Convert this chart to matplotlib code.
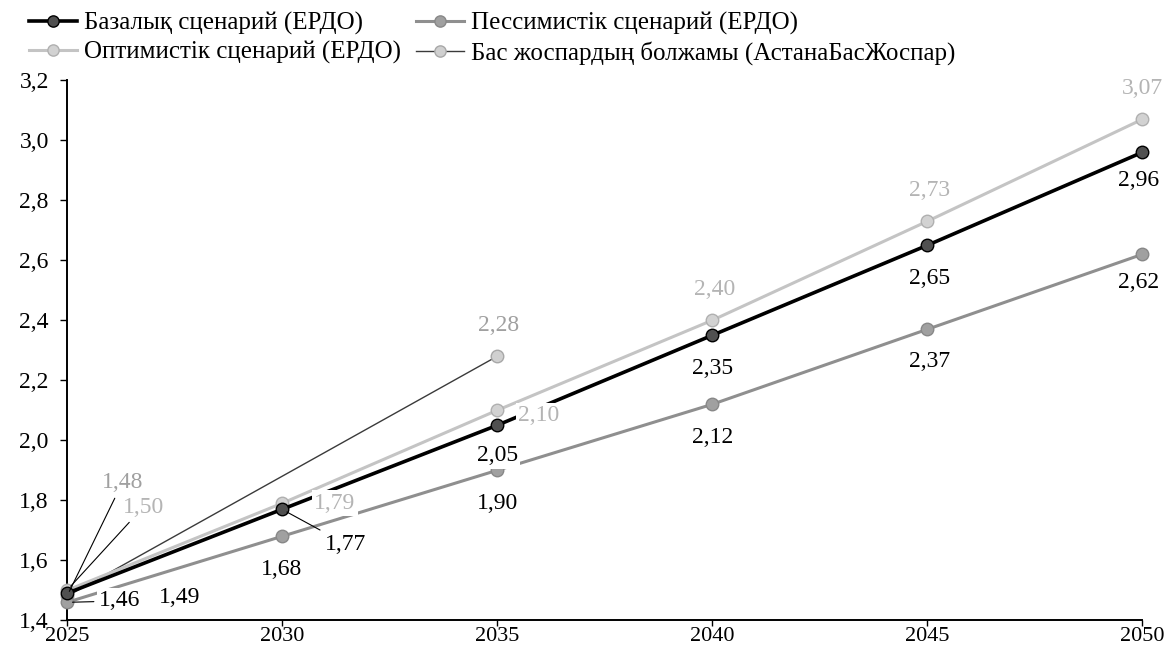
import numpy as np
import matplotlib.pyplot as plt
from matplotlib.ticker import FuncFormatter

plt.rcParams['font.family'] = ['Liberation Serif', 'DejaVu Serif']

#%% data
years = [2025, 2030, 2035, 2040, 2045, 2050]
base = [1.49, 1.77, 2.05, 2.35, 2.65, 2.96]
pess = [1.46, 1.68, 1.90, 2.12, 2.37, 2.62]
opt = [1.50, 1.79, 2.10, 2.40, 2.73, 3.07]
plan_years = [2025, 2035]
plan = [1.48, 2.28]

labels = ['Базалық сценарий (ЕРДО)', 'Оптимистік сценарий (ЕРДО)',
          'Пессимистік сценарий (ЕРДО)', 'Бас жоспардың болжамы (АстанаБасЖоспар)']

# label offsets in points (dx, dy) for each point
base_off = [(81, -3), (46, -25), (0, -22), (0, -24), (2, -24), (-3, -20)]
pess_off = [(38, 1), (0, -24), (0, -24), (0, -24), (2, -23), (-3, -20)]
opt_off = [(55, 60), (38, 0), (30, -4), (2, 22), (2, 22), (0, 22)]
plan_off = [(40, 82), (1, 22)]

comma = lambda v: f'{v:.2f}'.replace('.', ',')

#%% figure
fig = plt.figure(figsize=(11.74, 6.53), dpi=100)
ax = fig.add_axes([0.057, 0.05, 0.916, 0.827])

l_base, = ax.plot(years, base, '-o', color='black', lw=2.6, ms=9,
                  mfc='#505050', mec='black', mew=1, zorder=5, clip_on=False)
l_opt, = ax.plot(years, opt, '-o', color='#c4c4c4', lw=2.2, ms=9,
                 mfc='#d2d2d2', mec='#b0b0b0', mew=1, zorder=4, clip_on=False)
l_pess, = ax.plot(years, pess, '-o', color='#8f8f8f', lw=2.2, ms=9,
                  mfc='#a0a0a0', mec='#888888', mew=1, zorder=3, clip_on=False)
l_plan, = ax.plot(plan_years, plan, '-o', color='#3a3a3a', lw=1.0, ms=9,
                  mfc='#d0d0d0', mec='#a8a8a8', mew=1, zorder=2, clip_on=False)

lead = dict(arrowstyle='-', color='black', lw=0.8, shrinkA=2, shrinkB=4)
white = dict(boxstyle='square,pad=0.1', fc='white', ec='none')
fs = 17

for x, y, (dx, dy) in zip(years, base, base_off):
    kw = {}
    if x == 2030:
        kw['arrowprops'] = lead
    if x in (2025, 2035):
        kw['bbox'] = white
    ax.annotate(comma(y), (x, y), xytext=(dx, dy), textcoords='offset points',
                ha='center', va='center', fontsize=fs, color='black',
                zorder=8, annotation_clip=False, **kw)

for x, y, (dx, dy) in zip(years, pess, pess_off):
    kw = {}
    if x == 2025:
        kw['bbox'] = white
        kw['arrowprops'] = lead
    ax.annotate(comma(y), (x, y), xytext=(dx, dy), textcoords='offset points',
                ha='center', va='center', fontsize=fs, color='black',
                zorder=8, annotation_clip=False, **kw)

for x, y, (dx, dy) in zip(years, opt, opt_off):
    kw = {}
    if x == 2025:
        kw['arrowprops'] = lead
    if x in (2030, 2035):
        kw['bbox'] = white
    ax.annotate(comma(y), (x, y), xytext=(dx, dy), textcoords='offset points',
                ha='center', va='center', fontsize=fs, color='#b4b4b4',
                zorder=7, annotation_clip=False, **kw)

for x, y, (dx, dy) in zip(plan_years, plan, plan_off):
    kw = {}
    if x == 2025:
        kw['arrowprops'] = lead
    ax.annotate(comma(y), (x, y), xytext=(dx, dy), textcoords='offset points',
                ha='center', va='center', fontsize=fs, color='#a0a0a0',
                zorder=7, annotation_clip=False, **kw)

ax.set_xlim(2025, 2050)
ax.set_ylim(1.4, 3.2)
ax.set_xticks(years)
ax.set_yticks(np.arange(1.4, 3.21, 0.2))
ax.yaxis.set_major_formatter(FuncFormatter(lambda v, p: f'{v:.1f}'.replace('.', ',')))
ax.tick_params(labelsize=fs, direction='out', length=5, width=1, colors='black')
ax.tick_params(axis='y', pad=8)
ax.tick_params(axis='x', labelsize=16, length=4, pad=1)
for s in ['top', 'right']:
    ax.spines[s].set_visible(False)
for s in ['left', 'bottom']:
    ax.spines[s].set_linewidth(1.4)

fig.legend([l_base, l_opt, l_pess, l_plan], labels, ncol=2, loc='upper left',
           bbox_to_anchor=(0.012, 1.005), frameon=False, fontsize=18,
           handlelength=1.9, handletextpad=0.3, columnspacing=0.6,
           labelspacing=0.25, markerscale=0.9, borderaxespad=0.2)

fig.savefig('out.png', dpi=100)
